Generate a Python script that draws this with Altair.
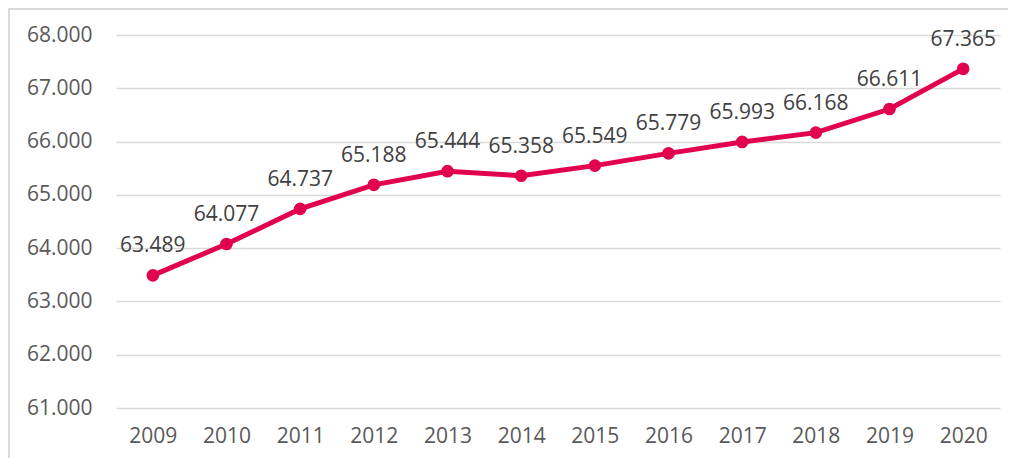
import altair as alt
import pandas as pd

years = ["2009", "2010", "2011", "2012", "2013", "2014", "2015", "2016", "2017", "2018", "2019", "2020"]
values = [63.489, 64.077, 64.737, 65.188, 65.444, 65.358, 65.549, 65.779, 65.993, 66.168, 66.611, 67.365]

df = pd.DataFrame({"year": years, "value": values})

COLOR = "#E2034F"
FONT = "Open Sans"

x = alt.X("year:N", sort=years, title=None,
          scale=alt.Scale(type="point", padding=0.5),
          axis=alt.Axis(labelAngle=0, labelFontSize=21, labelColor="#595959", labelFont=FONT,
                        ticks=False, domain=False, labelPadding=17, grid=False))
y = alt.Y("value:Q", title=None,
          scale=alt.Scale(domain=[61, 68], nice=False, zero=False),
          axis=alt.Axis(values=[61, 62, 63, 64, 65, 66, 67, 68], format=".3f",
                        labelFontSize=21, labelColor="#595959", labelFont=FONT,
                        ticks=False, domain=False, labelPadding=24,
                        gridColor="#D9D9D9", gridWidth=1.5))

base = alt.Chart(df)

line = base.mark_line(color=COLOR, strokeWidth=5).encode(x=x, y=y)
points = base.mark_point(filled=True, color=COLOR, size=160, opacity=1).encode(x=x, y=y)
labels = base.mark_text(fontSize=21, font=FONT, color="#404040", baseline="alphabetic", dy=-23).encode(
    x=x, y=y, text=alt.Text("value:Q", format=".3f"))

border_left = alt.Chart(df).mark_rule(color="#D9D9D9", strokeWidth=1.5).encode(
    x=alt.value(-107.5), y=alt.value(-26.5), y2=alt.value(460))
border_top = alt.Chart(df).mark_rule(color="#D9D9D9", strokeWidth=1.5).encode(
    x=alt.value(-107.5), x2=alt.value(950), y=alt.value(-26.2), y2=alt.value(-26.2))

chart = alt.layer(border_left, border_top, line, points, labels).properties(
    width=884, height=373,
    background="white",
    autosize=alt.AutoSizeParams(type="none"),
    padding={"left": 108, "top": 27, "right": 8, "bottom": 50},
).configure_view(strokeWidth=0, stroke="transparent")

chart.save("out.html", embed_options={"renderer": "svg", "actions": False})
